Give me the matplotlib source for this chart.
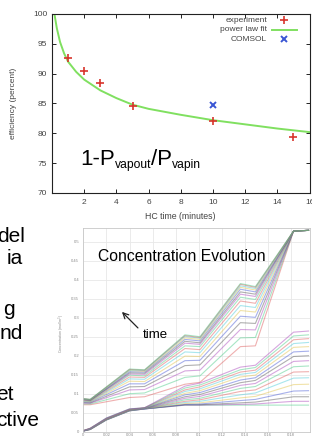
import matplotlib
matplotlib.use('Agg')
import matplotlib.pyplot as plt

plt.rcParams['font.family'] = ['Liberation Sans', 'DejaVu Sans']
plt.rcParams['mathtext.fontset'] = 'custom'
plt.rcParams['mathtext.rm'] = 'Liberation Sans'

# --- efficiency vs HC time (top chart) ---
exp_time = [1, 2, 3, 5, 10, 15]
exp_eff = [92.6, 90.5, 88.5, 84.6, 82.1, 79.3]
comsol_time = [10]
comsol_eff = [84.7]
fit_time = [0.15, 0.3, 0.5, 0.75, 1, 1.5, 2, 3, 4, 5, 6, 8, 10, 12, 14, 16]
fit_eff = [100.0, 97.6, 95.3, 93.4, 92.0, 90.3, 89.0, 87.2, 85.9, 84.8, 84.1, 83.1, 82.2, 81.5, 80.8, 80.2]
eff_xticks = [2, 4, 6, 8, 10, 12, 14, 16]
eff_yticks = [70, 75, 80, 85, 90, 95, 100]
legend_labels = ['experiment', 'power law fit', 'COMSOL']

# --- concentration profiles (bottom chart) ---
upper_x = [0, 0.006, 0.040, 0.053, 0.088, 0.101, 0.136, 0.149, 0.182, 0.195]
upper_rows = [
    [0.071, 0.071, 0.090, 0.092, 0.125, 0.130, 0.224, 0.226, 0.528, 0.530],
    [0.073, 0.073, 0.100, 0.102, 0.143, 0.147, 0.247, 0.248, 0.528, 0.530],
    [0.075, 0.075, 0.110, 0.111, 0.160, 0.162, 0.269, 0.268, 0.528, 0.530],
    [0.077, 0.076, 0.118, 0.119, 0.174, 0.176, 0.287, 0.285, 0.528, 0.530],
    [0.079, 0.078, 0.126, 0.126, 0.187, 0.188, 0.304, 0.301, 0.528, 0.530],
    [0.080, 0.079, 0.133, 0.132, 0.199, 0.198, 0.319, 0.315, 0.528, 0.530],
    [0.081, 0.080, 0.139, 0.138, 0.210, 0.208, 0.332, 0.327, 0.528, 0.530],
    [0.083, 0.081, 0.144, 0.143, 0.219, 0.216, 0.344, 0.338, 0.528, 0.530],
    [0.084, 0.082, 0.149, 0.147, 0.226, 0.224, 0.354, 0.348, 0.528, 0.530],
    [0.084, 0.083, 0.152, 0.151, 0.233, 0.230, 0.362, 0.356, 0.528, 0.530],
    [0.085, 0.083, 0.155, 0.154, 0.238, 0.234, 0.368, 0.362, 0.528, 0.530],
    [0.086, 0.084, 0.158, 0.157, 0.243, 0.239, 0.375, 0.368, 0.528, 0.530],
    [0.086, 0.084, 0.161, 0.159, 0.247, 0.243, 0.380, 0.373, 0.528, 0.530],
    [0.086, 0.085, 0.162, 0.161, 0.251, 0.246, 0.384, 0.377, 0.528, 0.530],
    [0.087, 0.085, 0.164, 0.162, 0.253, 0.248, 0.388, 0.380, 0.528, 0.530],
    [0.087, 0.085, 0.165, 0.163, 0.255, 0.250, 0.390, 0.382, 0.528, 0.530],
]
lower_x = [0, 0.006, 0.020, 0.040, 0.053, 0.088, 0.101, 0.136, 0.149, 0.182, 0.195]
lower_rows = [
    [0.002, 0.006, 0.031, 0.055, 0.060, 0.070, 0.070, 0.070, 0.070, 0.070, 0.070],
    [0.002, 0.006, 0.031, 0.055, 0.060, 0.070, 0.070, 0.072, 0.073, 0.080, 0.080],
    [0.002, 0.006, 0.031, 0.055, 0.060, 0.071, 0.071, 0.076, 0.078, 0.092, 0.092],
    [0.002, 0.006, 0.032, 0.056, 0.060, 0.072, 0.073, 0.082, 0.085, 0.107, 0.108],
    [0.002, 0.006, 0.032, 0.056, 0.061, 0.074, 0.076, 0.089, 0.093, 0.124, 0.125],
    [0.002, 0.007, 0.032, 0.056, 0.061, 0.077, 0.080, 0.097, 0.102, 0.141, 0.142],
    [0.002, 0.007, 0.033, 0.057, 0.061, 0.080, 0.084, 0.106, 0.110, 0.157, 0.158],
    [0.002, 0.007, 0.033, 0.057, 0.061, 0.084, 0.088, 0.114, 0.119, 0.171, 0.173],
    [0.002, 0.007, 0.033, 0.057, 0.061, 0.088, 0.093, 0.122, 0.127, 0.185, 0.187],
    [0.002, 0.008, 0.034, 0.058, 0.062, 0.092, 0.098, 0.129, 0.135, 0.198, 0.200],
    [0.002, 0.008, 0.034, 0.058, 0.062, 0.097, 0.103, 0.136, 0.142, 0.210, 0.212],
    [0.003, 0.008, 0.034, 0.058, 0.062, 0.101, 0.108, 0.144, 0.149, 0.222, 0.224],
    [0.003, 0.008, 0.035, 0.059, 0.062, 0.106, 0.113, 0.151, 0.156, 0.232, 0.235],
    [0.003, 0.009, 0.035, 0.059, 0.063, 0.110, 0.118, 0.157, 0.162, 0.242, 0.245],
    [0.003, 0.009, 0.036, 0.060, 0.063, 0.115, 0.123, 0.163, 0.169, 0.252, 0.255],
    [0.003, 0.009, 0.036, 0.060, 0.063, 0.120, 0.128, 0.170, 0.175, 0.262, 0.265],
]
conc_xticks = [0, 0.02, 0.04, 0.06, 0.08, 0.1, 0.12, 0.14, 0.16, 0.18]
conc_xlabels = ['0', '0.02', '0.04', '0.06', '0.08', '0.1', '0.12', '0.14', '0.16', '0.18']
conc_yticks = [0, 0.05, 0.1, 0.15, 0.2, 0.25, 0.3, 0.35, 0.4, 0.45, 0.5]
conc_ylabels = ['0', '0.05', '0.1', '0.15', '0.2', '0.25', '0.3', '0.35', '0.4', '0.45', '0.5']
palette = ['#a53cb8', '#505050', '#3c50d2', '#e0c040', '#40c8d8', '#dc5050', '#40c880']

# slide text cut off at the left edge
slide_words = ['del', 'ia', 'g', 'nd', 'et', 'ctive']

fig = plt.figure(figsize=(3.12, 4.37), dpi=100)

# top chart
ax1 = fig.add_axes([0.1667, 0.5584, 0.8256, 0.4096])
ax1.plot(fit_time, fit_eff, color='#80e060', lw=1.4, zorder=2)
ax1.plot(exp_time, exp_eff, ls='none', marker='+', ms=6, mew=1.2, color='#d8352c', zorder=3)
ax1.plot(comsol_time, comsol_eff, ls='none', marker='x', ms=5, mew=1.4, color='#3a56d4', zorder=3)
ax1.set_xlim(0, 16)
ax1.set_ylim(70, 100)
ax1.set_xticks(eff_xticks)
ax1.set_yticks(eff_yticks)
ax1.tick_params(direction='in', length=3, width=0.6, top=True, right=True,
                labelsize=6, labelcolor='#444')
ax1.tick_params(axis='x', pad=4.3)
ax1.tick_params(axis='y', pad=3.5)
for s in ax1.spines.values():
    s.set_linewidth(0.8)
    s.set_color('#222')
ax1.set_xlabel('HC time (minutes)', fontsize=6.3, color='#444', va='center')
ax1.xaxis.set_label_coords(0.496, -0.134)
ax1.set_ylabel('efficiency (percent)', fontsize=6, color='#444', va='center')
ax1.yaxis.set_label_coords(-0.148, 0.503)

# gnuplot style key, right aligned labels
key_y = [0.964, 0.911, 0.858]
for lab, ky in zip(legend_labels, key_y):
    ax1.text(0.835, ky, lab, transform=ax1.transAxes, ha='right', va='center',
             fontsize=6, color='#444')
ax1.plot([0.901], [key_y[0]], transform=ax1.transAxes, marker='+', ms=6, mew=1.2,
         color='#d8352c', ls='none')
ax1.plot([0.854, 0.951], [key_y[1], key_y[1]], transform=ax1.transAxes,
         color='#80e060', lw=1.4)
ax1.plot([0.901], [key_y[2]], transform=ax1.transAxes, marker='x', ms=5, mew=1.4,
         color='#3a56d4', ls='none')

t1 = ax1.text(0.109, 0.156, '1-P', transform=ax1.transAxes, fontsize=16, va='baseline')
t2 = ax1.annotate('vapout', xy=(1, 0), xycoords=t1, xytext=(0, -0.8),
                  textcoords='offset points', fontsize=8.7, va='bottom')
t3 = ax1.annotate('/P', xy=(1, 0), xycoords=(t2, t1), fontsize=16, va='bottom')
ax1.annotate('vapin', xy=(1, 0), xycoords=t3, xytext=(0, -0.8),
             textcoords='offset points', fontsize=8.7, va='bottom')

# bottom chart
ax2 = fig.add_axes([0.267, 0.0121, 0.7256, 0.466])
for i, row in enumerate(upper_rows):
    ax2.plot(upper_x, row, color=palette[(i + 5) % 7], lw=0.8, alpha=0.45)
for i, row in enumerate(lower_rows):
    ax2.plot(lower_x, row, color=palette[(i + 6) % 7], lw=0.8, alpha=0.45)
ax2.set_xlim(0, 0.196)
ax2.set_ylim(0, 0.536)
ax2.set_xticks(conc_xticks)
ax2.set_xticklabels(conc_xlabels)
ax2.set_yticks(conc_yticks)
ax2.set_yticklabels(conc_ylabels)
ax2.grid(True, color='#e8e8e8', lw=0.6)
ax2.set_axisbelow(True)
ax2.tick_params(length=0, labelsize=3, labelcolor='#888')
ax2.tick_params(axis='x', pad=1)
ax2.tick_params(axis='y', pad=3)
for s in ax2.spines.values():
    s.set_linewidth(0.6)
    s.set_color('#c8c8c8')
ax2.set_ylabel('Concentration (mol/m$^3$)', fontsize=2.6, color='#888', va='center')
ax2.yaxis.set_label_coords(-0.094, 0.485)
ax2.text(0.434, 0.858, 'Concentration Evolution', transform=ax2.transAxes,
         ha='center', va='center', fontsize=11.3)
ax2.text(0.319, 0.475, 'time', transform=ax2.transAxes, ha='center', va='center',
         fontsize=9.5)
ax2.annotate('', xy=(0.162, 0.598), xycoords='axes fraction',
             xytext=(0.250, 0.5), textcoords='axes fraction',
             arrowprops=dict(arrowstyle='->', color='#222', lw=0.9))

# left slide text
word_pos = [(25, 241.7), (23.3, 264), (15, 315), (23.3, 339.3), (13.3, 400), (39.3, 426)]
for w, (px, py) in zip(slide_words, word_pos):
    fig.text(px / 312, 1 - py / 437, w, ha='right', va='baseline', fontsize=15)

fig.savefig('out.png', dpi=100)
